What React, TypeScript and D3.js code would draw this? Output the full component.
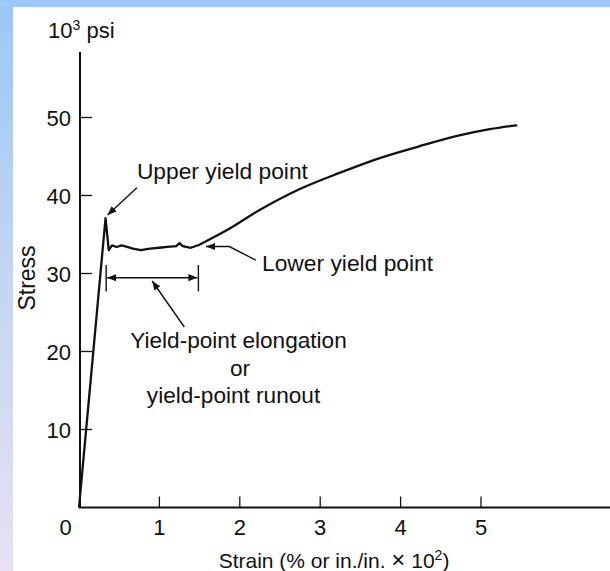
import React from "react";
import * as d3 from "d3";

// ---- data (strain %, stress ksi) ----
const elasticPlateauStrain = [0, 0.33, 0.37, 0.41, 0.47, 0.53, 0.6, 0.67, 0.77, 0.88, 1.0, 1.1, 1.21, 1.25, 1.29, 1.39, 1.49];
const elasticPlateauStress = [0, 37.1, 33.0, 33.6, 33.4, 33.6, 33.4, 33.2, 33.0, 33.2, 33.3, 33.4, 33.5, 33.9, 33.5, 33.3, 33.65];
const hardeningStrain = [1.49, 1.83, 2.24, 2.74, 3.24, 3.74, 4.23, 4.73, 5.11, 5.44];
const hardeningStress = [33.65, 35.5, 38.1, 40.8, 42.9, 44.8, 46.3, 47.7, 48.5, 49.0];
const xTicks = [1, 2, 3, 4, 5];
const yTicks = [10, 20, 30, 40, 50];

const W = 610;
const H = 571;
const FONT = "'Liberation Sans', Arial, Helvetica, sans-serif";
const INK = "#111";

export default function App() {
  const x = d3.scaleLinear().domain([0, 6.6]).range([79, 79 + 6.6 * 80.4]);
  const y = d3.scaleLinear().domain([0, 50]).range([507.5, 117.5]);
  const axisX0 = 80;
  const axisY0 = y(0);

  const plateau = elasticPlateauStrain.map((s, i) => [s, elasticPlateauStress[i]] as [number, number]);
  const hard = hardeningStrain.map((s, i) => [s, hardeningStress[i]] as [number, number]);
  const linLine = d3.line<[number, number]>().x((d) => x(d[0])).y((d) => y(d[1])).curve(d3.curveLinear);
  const smoothLine = d3.line<[number, number]>().x((d) => x(d[0])).y((d) => y(d[1])).curve(d3.curveMonotoneX);

  // annotation anchor points (data units)
  const upTip = [0.355, 37.5];
  const upTail = [0.72, 41.0];
  const lowTip = [1.58, 33.46];
  const lowBend = [1.87, 33.46];
  const lowEnd = [2.2, 31.7];
  const dimL = 0.338;
  const dimR = 1.485;
  const dimTop = 31.1;
  const dimBot = 27.7;
  const dimMid = 29.46;
  const leadTip = [0.91, 29.04];
  const leadTail = [1.31, 23.14];

  return (
    <svg width={W} height={H} style={{ position: "absolute", left: 0, top: 0, display: "block" }}>
      <defs>
        <linearGradient id="bg" x1="0" y1="0" x2="0" y2="1">
          <stop offset="0" stopColor="#9cc6f7" />
          <stop offset="0.5" stopColor="#c4d6f2" />
          <stop offset="1" stopColor="#e8e1f2" />
        </linearGradient>
        <marker id="arr" viewBox="0 0 10 10" refX="10" refY="5" markerWidth="9" markerHeight="9" markerUnits="userSpaceOnUse" orient="auto-start-reverse">
          <path d="M0,1 L10,5 L0,9 Z" fill={INK} />
        </marker>
      </defs>
      <rect x={0} y={0} width={W} height={H} fill="url(#bg)" />
      <rect x={0} y={0} width={W} height={7} fill="#9ec8f8" />
      <rect x={13} y={7} width={W - 13} height={H - 7} fill="#fff" />

      {/* axes */}
      <line x1={axisX0} y1={52} x2={axisX0} y2={axisY0} stroke={INK} strokeWidth={2} />
      <line x1={axisX0 - 1} y1={axisY0} x2={W} y2={axisY0} stroke={INK} strokeWidth={2.2} />
      {yTicks.map((t) => (
        <g key={"y" + t}>
          <line x1={axisX0} x2={axisX0 + 12} y1={y(t)} y2={y(t)} stroke={INK} strokeWidth={1.3} />
          <text x={71} y={y(t) + 8} textAnchor="end" fontSize={22} fontFamily={FONT} fill={INK}>{t}</text>
        </g>
      ))}
      {xTicks.map((t) => (
        <g key={"x" + t}>
          <line x1={x(t)} x2={x(t)} y1={axisY0} y2={axisY0 - 11} stroke={INK} strokeWidth={1.3} />
          <text x={x(t)} y={535} textAnchor="middle" fontSize={22} fontFamily={FONT} fill={INK}>{t}</text>
        </g>
      ))}
      <text x={65.5} y={535} textAnchor="middle" fontSize={22} fontFamily={FONT} fill={INK}>0</text>

      <text x={48} y={38} fontSize={22} fontFamily={FONT} fill={INK}>
        10<tspan fontSize={14} dy={-8}>3</tspan><tspan dy={8}> psi</tspan>
      </text>
      <text transform="translate(35,278) rotate(-90)" textAnchor="middle" fontSize={23} fontFamily={FONT} fill={INK}>Stress</text>
      <text x={334} y={567.5} textAnchor="middle" fontSize={21} fontFamily={FONT} fill={INK}>
        Strain (% or in./in. <tspan fontSize={24}>×</tspan> 10<tspan fontSize={14} dy={-8}>2</tspan><tspan dy={8}>)</tspan>
      </text>

      {/* curve */}
      <path d={linLine(plateau) || ""} fill="none" stroke={INK} strokeWidth={2.3} strokeLinejoin="round" />
      <path d={smoothLine(hard) || ""} fill="none" stroke={INK} strokeWidth={2.3} strokeLinecap="round" />

      {/* upper yield point */}
      <line x1={x(upTail[0])} y1={y(upTail[1])} x2={x(upTip[0])} y2={y(upTip[1])} stroke={INK} strokeWidth={1.4} markerEnd="url(#arr)" />
      <text x={x(upTail[0])} y={179} fontSize={22.8} fontFamily={FONT} fill={INK}>Upper yield point</text>

      {/* lower yield point */}
      <polyline
        points={`${x(lowEnd[0])},${y(lowEnd[1])} ${x(lowBend[0])},${y(lowBend[1])} ${x(lowTip[0])},${y(lowTip[1])}`}
        fill="none" stroke={INK} strokeWidth={1.4} markerEnd="url(#arr)" />
      <text x={262} y={271} fontSize={22.8} fontFamily={FONT} fill={INK}>Lower yield point</text>

      {/* yield-point elongation dimension */}
      <line x1={x(dimL)} x2={x(dimL)} y1={y(dimTop)} y2={y(dimBot)} stroke={INK} strokeWidth={1.4} />
      <line x1={x(dimR)} x2={x(dimR)} y1={y(dimTop)} y2={y(dimBot)} stroke={INK} strokeWidth={1.4} />
      <line x1={x(dimL) + 1} x2={x(dimR) - 1} y1={y(dimMid)} y2={y(dimMid)} stroke={INK} strokeWidth={1.4} markerStart="url(#arr)" markerEnd="url(#arr)" />
      <line x1={x(leadTail[0])} y1={y(leadTail[1])} x2={x(leadTip[0])} y2={y(leadTip[1])} stroke={INK} strokeWidth={1.4} markerEnd="url(#arr)" />
      <text x={238.5} y={348} textAnchor="middle" fontSize={22.6} fontFamily={FONT} fill={INK}>Yield-point elongation</text>
      <text x={240} y={376} textAnchor="middle" fontSize={22.6} fontFamily={FONT} fill={INK}>or</text>
      <text x={233.5} y={403} textAnchor="middle" fontSize={22.6} fontFamily={FONT} fill={INK}>yield-point runout</text>
    </svg>
  );
}
